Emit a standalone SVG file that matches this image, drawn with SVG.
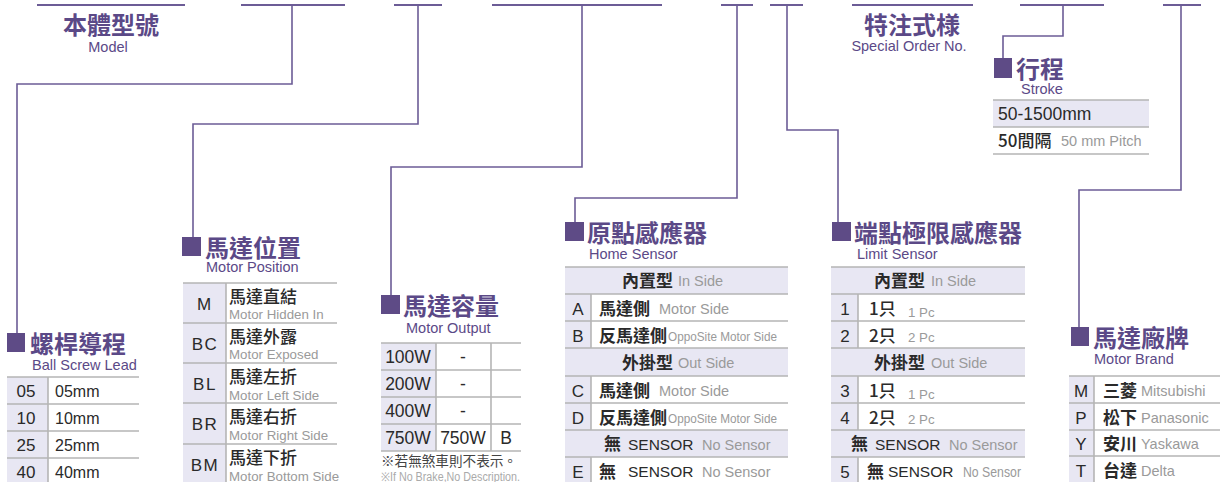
<svg xmlns="http://www.w3.org/2000/svg" width="1220" height="482" viewBox="0 0 1220 482">
<style>
.ln{fill:none;stroke:#6c5c96;stroke-width:1.6}
.tl{fill:none;stroke:#6c5c96;stroke-width:2}
.sq{fill:#5e4b86}
.tt{font-family:"Noto Sans CJK TC","Noto Sans CJK SC",sans-serif;font-weight:700;font-size:24px;fill:#5b4987}
.st{font-family:"Liberation Sans",Arial,sans-serif;font-size:14.5px;fill:#5b4987}
.bg{fill:#e8e7f3}
.gl{stroke:#b5b5b5;stroke-width:1.6;fill:none}
.cd{font-family:"Liberation Sans",Arial,sans-serif;font-size:17px;fill:#2a2a2a}
.zh{font-family:"Noto Sans CJK TC","Noto Sans CJK SC",sans-serif;font-size:17px;fill:#2a2a2a;font-weight:500}
.zb{font-family:"Noto Sans CJK TC","Noto Sans CJK SC",sans-serif;font-size:17px;fill:#2a2a2a;font-weight:700}
.en{font-family:"Liberation Sans",Arial,sans-serif;font-size:16px;fill:#2a2a2a}
.en2{font-family:"Liberation Sans",Arial,sans-serif;font-size:17.5px;fill:#2a2a2a}
.sn{font-family:"Liberation Sans",Arial,sans-serif;font-size:15.5px;fill:#2a2a2a}
.gy{font-family:"Liberation Sans",Arial,sans-serif;font-size:14.5px;fill:#9a9a9a}
.gs{font-family:"Liberation Sans",Arial,sans-serif;font-size:13.3px;fill:#9a9a9a}
.nt{font-family:"Noto Sans CJK TC","Noto Sans CJK SC",sans-serif;font-size:13.6px;fill:#444}
.ne{font-family:"Liberation Sans",Arial,sans-serif;font-size:12px;fill:#aaa}
.mid{text-anchor:middle}
.ls{letter-spacing:1.5px}
</style>
<g id="connectors">
<line class="tl" x1="37" y1="5" x2="185" y2="5"/>
<line class="tl" x1="241" y1="5" x2="345" y2="5"/>
<line class="tl" x1="394" y1="5" x2="442" y2="5"/>
<line class="tl" x1="492" y1="5" x2="662" y2="5"/>
<line class="tl" x1="721" y1="5" x2="753" y2="5"/>
<line class="tl" x1="770" y1="5" x2="803" y2="5"/>
<line class="tl" x1="852" y1="5" x2="973" y2="5"/>
<line class="tl" x1="1020" y1="5" x2="1104" y2="5"/>
<line class="tl" x1="1163" y1="5" x2="1201" y2="5"/>
<polyline class="ln" points="292,5 292,84 17,84 17,333"/>
<polyline class="ln" points="418,5 418,124 193,124 193,237"/>
<polyline class="ln" points="582,5 582,167 391,167 391,295"/>
<polyline class="ln" points="737,5 737,198 575,198 575,222"/>
<polyline class="ln" points="787,5 787,130 838,130 838,222"/>
<polyline class="ln" points="1063,5 1063,36 1003,36 1003,58"/>
<polyline class="ln" points="1181,5 1181,190 1079,190 1079,327"/>
</g>
<g id="model">
<text class="tt mid" x="111" y="34">本體型號</text>
<text class="st mid" x="108" y="52">Model</text>
</g>
<g id="special">
<text class="tt mid" x="912" y="34">特注式様</text>
<text class="st mid" x="909" y="51">Special Order No.</text>
</g>
<g id="stroke">
<rect class="sq" x="994" y="58" width="18" height="20"/>
<text class="tt" x="1016" y="78">行程</text>
<text class="st" x="1021" y="94">Stroke</text>
<rect class="bg" x="993" y="100" width="156" height="27"/>
<line class="gl" x1="993" y1="100" x2="1149" y2="100"/>
<line class="gl" x1="993" y1="127" x2="1149" y2="127"/>
<line class="gl" x1="993" y1="154" x2="1149" y2="154"/>
<text class="en2" x="998" y="120">50-1500mm</text>
<text class="zh" x="998" y="147">50間隔</text>
<text class="gy" x="1061" y="146">50 mm Pitch</text>
</g>
<g id="lead">
<rect class="sq" x="7" y="333" width="18" height="19"/>
<text class="tt" x="30" y="353">螺桿導程</text>
<text class="st" x="32" y="370">Ball Screw Lead</text>
<rect class="bg" x="7" y="377" width="41" height="105"/>
<line class="gl" x1="7" y1="377" x2="139" y2="377"/>
<line class="gl" x1="7" y1="404" x2="139" y2="404"/>
<line class="gl" x1="7" y1="431" x2="139" y2="431"/>
<line class="gl" x1="7" y1="458" x2="139" y2="458"/>
<line class="gl" x1="48" y1="377" x2="48" y2="482"/>
<text class="cd mid" x="26" y="397">05</text><text class="en" x="55" y="397">05mm</text>
<text class="cd mid" x="26" y="424">10</text><text class="en" x="55" y="424">10mm</text>
<text class="cd mid" x="26" y="451">25</text><text class="en" x="55" y="451">25mm</text>
<text class="cd mid" x="26" y="478">40</text><text class="en" x="55" y="478">40mm</text>
</g>
<g id="position">
<rect class="sq" x="182" y="237" width="19" height="19"/>
<text class="tt" x="205" y="257">馬達位置</text>
<text class="st" x="206" y="272">Motor Position</text>
<rect class="bg" x="183" y="283" width="43" height="199"/>
<line class="gl" x1="183" y1="283" x2="337" y2="283"/>
<line class="gl" x1="183" y1="323" x2="337" y2="323"/>
<line class="gl" x1="183" y1="363" x2="337" y2="363"/>
<line class="gl" x1="183" y1="403" x2="337" y2="403"/>
<line class="gl" x1="183" y1="444" x2="337" y2="444"/>
<line class="gl" x1="226" y1="283" x2="226" y2="482"/>
<text class="cd mid" x="204" y="310">M</text>
<text class="cd mid ls" x="205" y="350">BC</text>
<text class="cd mid ls" x="205" y="390">BL</text>
<text class="cd mid ls" x="205" y="430">BR</text>
<text class="cd mid ls" x="205" y="471">BM</text>
<text class="zh" x="229" y="303">馬達直結</text><text class="gs" x="229" y="319">Motor Hidden In</text>
<text class="zh" x="229" y="343">馬達外露</text><text class="gs" x="229" y="359">Motor Exposed</text>
<text class="zh" x="229" y="383">馬達左折</text><text class="gs" x="229" y="400">Motor Left Side</text>
<text class="zh" x="229" y="423">馬達右折</text><text class="gs" x="229" y="440">Motor Right Side</text>
<text class="zh" x="229" y="464">馬達下折</text><text class="gs" x="229" y="481">Motor  Bottom Side</text>
</g>
<g id="output">
<rect class="sq" x="381" y="295" width="19" height="19"/>
<text class="tt" x="403" y="315">馬達容量</text>
<text class="st" x="406" y="333">Motor Output</text>
<rect class="bg" x="381" y="343" width="55" height="108"/>
<line class="gl" x1="381" y1="343" x2="521" y2="343"/>
<line class="gl" x1="381" y1="370" x2="521" y2="370"/>
<line class="gl" x1="381" y1="397" x2="521" y2="397"/>
<line class="gl" x1="381" y1="424" x2="521" y2="424"/>
<line class="gl" x1="381" y1="451" x2="521" y2="451"/>
<line class="gl" x1="436" y1="343" x2="436" y2="451"/>
<line class="gl" x1="491" y1="343" x2="491" y2="451"/>
<text class="en2 mid" x="408" y="363">100W</text><text class="en2 mid" x="463" y="363">-</text>
<text class="en2 mid" x="408" y="390">200W</text><text class="en2 mid" x="463" y="390">-</text>
<text class="en2 mid" x="408" y="417">400W</text><text class="en2 mid" x="463" y="417">-</text>
<text class="en2 mid" x="408" y="444">750W</text><text class="en2 mid" x="463" y="444">750W</text><text class="en2 mid" x="506" y="444">B</text>
<text class="nt" x="381" y="466">※若無煞車則不表示。</text>
<text class="ne" x="381" y="481" textLength="139" lengthAdjust="spacingAndGlyphs">※If No Brake,No Description.</text>
</g>
<g id="home">
<rect class="sq" x="565" y="222" width="19" height="19"/>
<text class="tt" x="587" y="242">原點感應器</text>
<text class="st" x="589" y="259">Home Sensor</text>
<rect class="bg" x="565" y="267" width="223" height="27"/>
<rect class="bg" x="565" y="348" width="223" height="28"/>
<rect class="bg" x="565" y="430" width="223" height="27"/>
<rect class="bg" x="565" y="294" width="26" height="54"/>
<rect class="bg" x="565" y="376" width="26" height="54"/>
<rect class="bg" x="565" y="457" width="26" height="25"/>
<line class="gl" x1="565" y1="267" x2="788" y2="267"/>
<line class="gl" x1="565" y1="294" x2="788" y2="294"/>
<line class="gl" x1="565" y1="321" x2="788" y2="321"/>
<line class="gl" x1="565" y1="348" x2="788" y2="348"/>
<line class="gl" x1="565" y1="376" x2="788" y2="376"/>
<line class="gl" x1="565" y1="403" x2="788" y2="403"/>
<line class="gl" x1="565" y1="430" x2="788" y2="430"/>
<line class="gl" x1="565" y1="457" x2="788" y2="457"/>
<line class="gl" x1="591" y1="294" x2="591" y2="348"/>
<line class="gl" x1="591" y1="376" x2="591" y2="430"/>
<line class="gl" x1="591" y1="457" x2="591" y2="482"/>
<text class="zb" x="622" y="287">內置型</text><text class="gy" x="678" y="286">In Side</text>
<text class="cd mid" x="578" y="315">A</text><text class="zb" x="599" y="315">馬達側</text><text class="gy" x="659" y="314">Motor Side</text>
<text class="cd mid" x="578" y="342">B</text><text class="zb" x="599" y="342">反馬達側</text><text class="gs" x="668" y="341" textLength="109" lengthAdjust="spacingAndGlyphs">OppoSite Motor Side</text>
<text class="zb" x="622" y="369">外掛型</text><text class="gy" x="678" y="368">Out Side</text>
<text class="cd mid" x="578" y="397">C</text><text class="zb" x="599" y="397">馬達側</text><text class="gy" x="659" y="396">Motor Side</text>
<text class="cd mid" x="578" y="424">D</text><text class="zb" x="599" y="424">反馬達側</text><text class="gs" x="668" y="423" textLength="109" lengthAdjust="spacingAndGlyphs">OppoSite Motor Side</text>
<text class="zb" x="604" y="450">無</text><text class="sn" x="628" y="450">SENSOR</text><text class="gy" x="702" y="450">No Sensor</text>
<text class="cd mid" x="578" y="478">E</text><text class="zb" x="599" y="478">無</text><text class="sn" x="628" y="477">SENSOR</text><text class="gy" x="702" y="477">No Sensor</text>
</g>
<g id="limit">
<rect class="sq" x="832" y="222" width="19" height="19"/>
<text class="tt" x="854" y="242">端點極限感應器</text>
<text class="st" x="857" y="259">Limit Sensor</text>
<rect class="bg" x="831" y="267" width="194" height="27"/>
<rect class="bg" x="831" y="348" width="194" height="28"/>
<rect class="bg" x="831" y="430" width="194" height="27"/>
<rect class="bg" x="831" y="294" width="27" height="54"/>
<rect class="bg" x="831" y="376" width="27" height="54"/>
<rect class="bg" x="831" y="457" width="27" height="25"/>
<line class="gl" x1="831" y1="267" x2="1025" y2="267"/>
<line class="gl" x1="831" y1="294" x2="1025" y2="294"/>
<line class="gl" x1="831" y1="321" x2="1025" y2="321"/>
<line class="gl" x1="831" y1="348" x2="1025" y2="348"/>
<line class="gl" x1="831" y1="376" x2="1025" y2="376"/>
<line class="gl" x1="831" y1="403" x2="1025" y2="403"/>
<line class="gl" x1="831" y1="430" x2="1025" y2="430"/>
<line class="gl" x1="831" y1="457" x2="1025" y2="457"/>
<line class="gl" x1="858" y1="294" x2="858" y2="348"/>
<line class="gl" x1="858" y1="376" x2="858" y2="430"/>
<line class="gl" x1="858" y1="457" x2="858" y2="482"/>
<text class="zb" x="874" y="287">內置型</text><text class="gy" x="931" y="286">In Side</text>
<text class="cd mid" x="845" y="315">1</text><text class="zh" x="869" y="315">1只</text><text class="gs" x="908" y="317">1 Pc</text>
<text class="cd mid" x="845" y="342">2</text><text class="zh" x="869" y="342">2只</text><text class="gs" x="908" y="342">2 Pc</text>
<text class="zb" x="874" y="369">外掛型</text><text class="gy" x="931" y="368">Out Side</text>
<text class="cd mid" x="845" y="397">3</text><text class="zh" x="869" y="397">1只</text><text class="gs" x="908" y="399">1 Pc</text>
<text class="cd mid" x="845" y="424">4</text><text class="zh" x="869" y="424">2只</text><text class="gs" x="908" y="424">2 Pc</text>
<text class="zb" x="851" y="450">無</text><text class="sn" x="875" y="450">SENSOR</text><text class="gy" x="949" y="450">No Sensor</text>
<text class="cd mid" x="845" y="478">5</text><text class="zb" x="867" y="478">無</text><text class="sn" x="888" y="477">SENSOR</text><text class="gy" x="963" y="477" textLength="58" lengthAdjust="spacingAndGlyphs">No Sensor</text>
</g>
<g id="brand">
<rect class="sq" x="1071" y="327" width="18" height="19"/>
<text class="tt" x="1093" y="347">馬達廠牌</text>
<text class="st" x="1094" y="364">Motor Brand</text>
<rect class="bg" x="1069" y="376" width="25" height="106"/>
<line class="gl" x1="1069" y1="376" x2="1220" y2="376"/>
<line class="gl" x1="1069" y1="403" x2="1220" y2="403"/>
<line class="gl" x1="1069" y1="430" x2="1220" y2="430"/>
<line class="gl" x1="1069" y1="456" x2="1220" y2="456"/>
<line class="gl" x1="1094" y1="376" x2="1094" y2="482"/>
<text class="cd mid" x="1081" y="397">M</text><text class="zb" x="1103" y="397">三菱</text><text class="gy" x="1141" y="396">Mitsubishi</text>
<text class="cd mid" x="1081" y="424">P</text><text class="zb" x="1103" y="424">松下</text><text class="gy" x="1141" y="423">Panasonic</text>
<text class="cd mid" x="1081" y="450">Y</text><text class="zb" x="1103" y="450">安川</text><text class="gy" x="1141" y="449">Yaskawa</text>
<text class="cd mid" x="1081" y="477">T</text><text class="zb" x="1103" y="477">台達</text><text class="gy" x="1141" y="476">Delta</text>
</g>
</svg>
